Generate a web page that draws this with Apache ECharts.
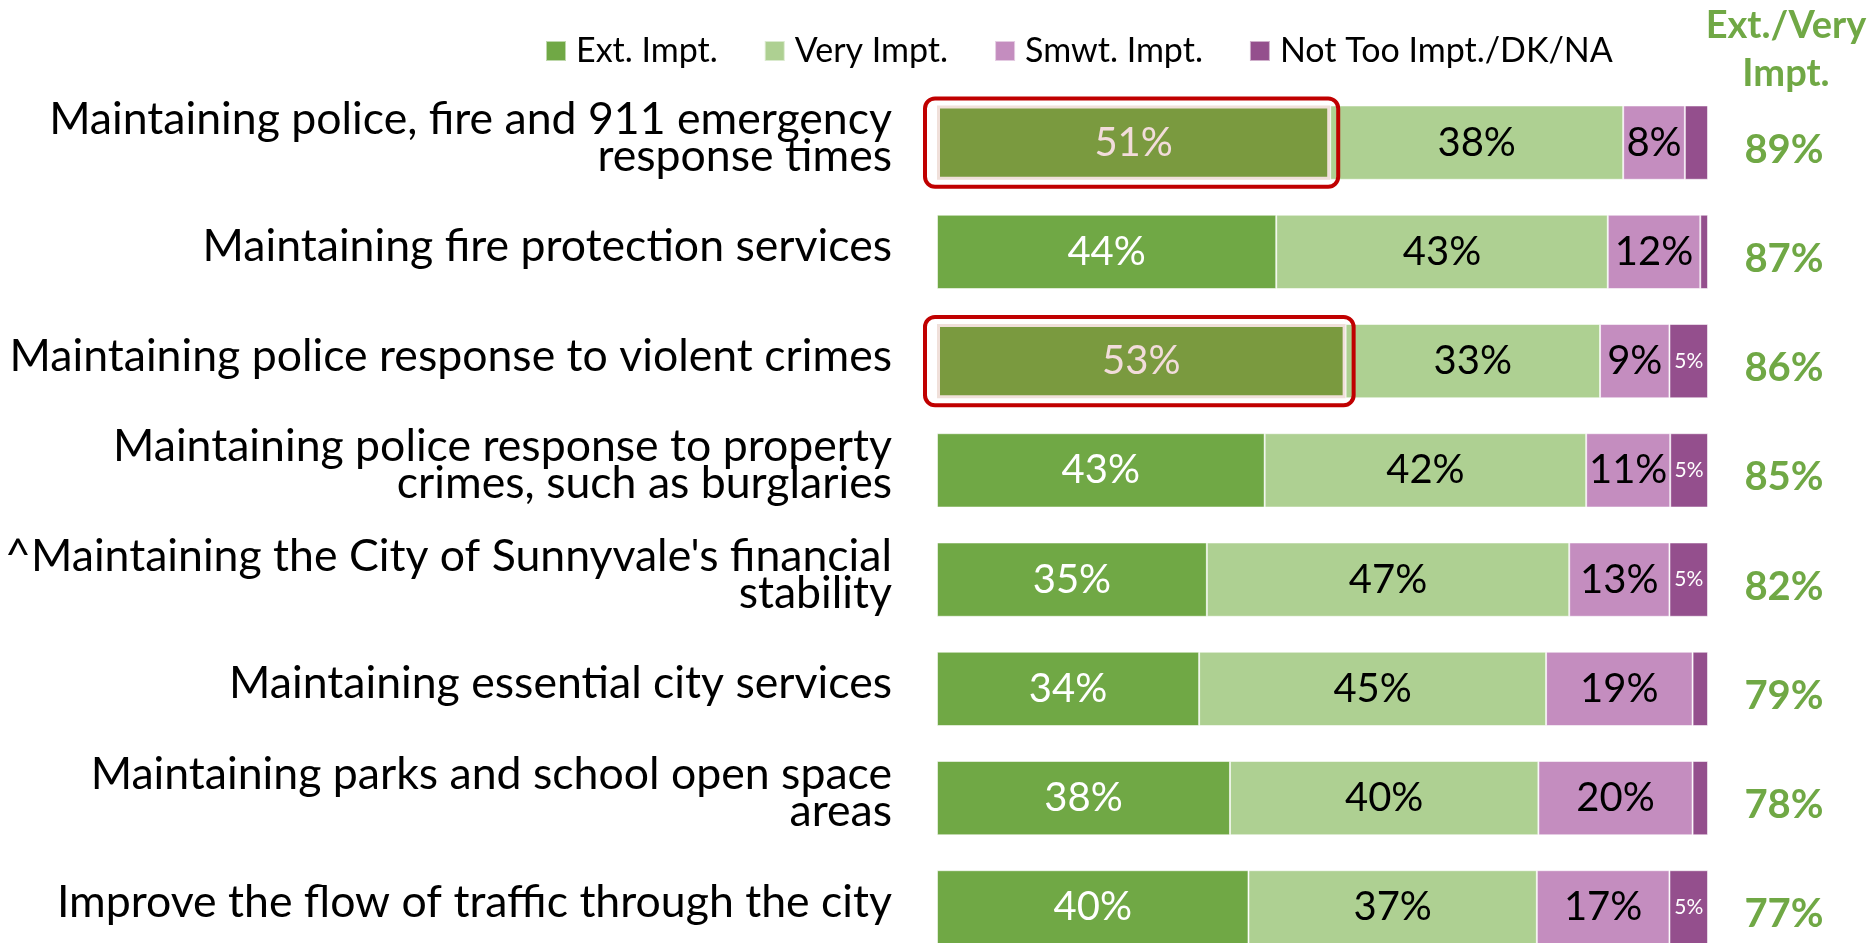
<!DOCTYPE html>
<html>
<head>
<meta charset="utf-8">
<title>Importance of city services</title>
<script src="https://cdn.jsdelivr.net/npm/echarts@6/dist/echarts.min.js"></script>
<style>
    html, body {margin: 0; padding: 0; background: #fff;}
    #main {width: 1870px; height: 943px;}
</style>
</head>
<body>
<div id="main"></div>
<script>
// categories, top to bottom
var categories = [
    'Maintaining police, fire and 911 emergency\nresponse times',
    'Maintaining fire protection services',
    'Maintaining police response to violent crimes',
    'Maintaining police response to property\ncrimes, such as burglaries',
    '^Maintaining the City of Sunnyvale\'s financial\nstability',
    'Maintaining essential city services',
    'Maintaining parks and school open space\nareas',
    'Improve the flow of traffic through the city'
];
// segment widths (%)
var extImpt = [51, 44, 53, 42.5, 35, 34, 38, 40.4];
var veryImpt = [38, 43, 33, 41.7, 47, 45, 40, 37.4];
var smwtImpt = [8, 12, 9, 10.9, 13, 19, 20, 17.2];
var notToo = [3, 1, 5, 4.9, 5, 2, 2, 5.0];
// right-hand column
var totals = ['89%', '87%', '86%', '85%', '82%', '79%', '78%', '77%'];
// rows boxed in red
var highlightRows = [0, 2];

var GREEN = '#70A845';
var fontFamily = 'Lato, "Noto Sans", sans-serif';
var edge = 'rgba(255,255,255,0.55)';

var myChart = echarts.init(document.getElementById('main'));

var extData = extImpt.map(function (v, i) {
    if (highlightRows.indexOf(i) >= 0) {
        return {
            value: v,
            itemStyle: {color: '#7A9A3F', borderColor: '#F0E0DA', borderWidth: 3},
            label: {color: '#F2DCDB'}
        };
    }
    return v;
});

var boxData = highlightRows.map(function (i) {
    return [extImpt[i], i];
});

var barLabel = {
    show: true,
    position: 'inside',
    fontFamily: fontFamily,
    fontSize: 40,
    formatter: function (p) {
        return Math.round(p.value) + '%';
    }
};

myChart.setOption({
    backgroundColor: '#fff',
    animation: false,
    legend: {
        left: 540,
        top: 29,
        itemWidth: 20,
        itemHeight: 20,
        itemGap: 46,
        icon: 'rect',
        textStyle: {fontFamily: fontFamily, fontSize: 34, color: '#000', padding: [0, 0, 0, 5]},
        data: ['Ext. Impt.', 'Very Impt.', 'Smwt. Impt.', 'Not Too Impt./DK/NA']
    },
    graphic: [{
        type: 'text',
        x: 1786,
        y: 2,
        style: {
            text: 'Ext./Very\nImpt.',
            fontFamily: fontFamily,
            fontWeight: 'bold',
            fontSize: 38,
            lineHeight: 48,
            fill: GREEN,
            align: 'center',
            verticalAlign: 'top'
        }
    }],
    grid: {
        left: 937,
        right: 162,
        top: 88,
        height: 874,
        containLabel: false,
        outerBoundsMode: 'none'
    },
    xAxis: {
        type: 'value',
        min: 0,
        max: 100,
        show: false
    },
    yAxis: [{
        type: 'category',
        data: categories,
        inverse: true,
        axisLine: {show: false},
        axisTick: {show: false},
        axisLabel: {
            margin: 45,
            fontFamily: fontFamily,
            fontSize: 44.6,
            lineHeight: 37,
            color: '#000',
            align: 'right',
            // empty short line underneath lifts the text a little
            formatter: function (v) {
                return v + '\n{s| }';
            },
            rich: {s: {fontSize: 8, lineHeight: 10}}
        }
    }, {
        type: 'category',
        data: totals,
        inverse: true,
        position: 'right',
        axisLine: {show: false},
        axisTick: {show: false},
        axisLabel: {
            margin: 76,
            align: 'center',
            fontFamily: fontFamily,
            fontWeight: 'bold',
            fontSize: 40,
            color: GREEN,
            formatter: function (v) {
                return '{s| }\n' + v;
            },
            rich: {s: {fontSize: 8, lineHeight: 14}}
        }
    }],
    series: [{
        name: 'Ext. Impt.',
        type: 'bar',
        stack: 'total',
        barCategoryGap: '32%',
        itemStyle: {color: GREEN, borderColor: edge, borderWidth: 1},
        label: Object.assign({}, barLabel, {color: '#fff'}),
        data: extData
    }, {
        name: 'Very Impt.',
        type: 'bar',
        stack: 'total',
        itemStyle: {color: '#AED092', borderColor: edge, borderWidth: 1},
        label: Object.assign({}, barLabel, {color: '#000'}),
        data: veryImpt
    }, {
        name: 'Smwt. Impt.',
        type: 'bar',
        stack: 'total',
        itemStyle: {color: '#C48DBF', borderColor: edge, borderWidth: 1},
        label: Object.assign({}, barLabel, {color: '#000'}),
        data: smwtImpt
    }, {
        name: 'Not Too Impt./DK/NA',
        type: 'bar',
        stack: 'total',
        itemStyle: {color: '#944F8D', borderColor: edge, borderWidth: 1},
        label: {
            show: true,
            position: 'inside',
            fontFamily: fontFamily,
            fontSize: 21,
            color: '#fff',
            formatter: function (p) {
                return p.value >= 4.5 ? Math.round(p.value) + '%' : '';
            }
        },
        data: notToo
    }, {
        // red outline round the highlighted Ext. segments
        type: 'custom',
        silent: true,
        z: 5,
        renderItem: function (params, api) {
            var start = api.coord([0, api.value(1)]);
            var end = api.coord([api.value(0), api.value(1)]);
            var h = api.size([0, 1])[1] * 0.68;
            return {
                type: 'rect',
                shape: {
                    x: start[0] - 12,
                    y: start[1] - h / 2 - 7,
                    width: end[0] - start[0] + 20,
                    height: h + 14,
                    r: 10
                },
                style: {fill: 'none', stroke: '#C00000', lineWidth: 4}
            };
        },
        encode: {x: 0, y: 1},
        data: boxData
    }]
});
</script>
</body>
</html>
